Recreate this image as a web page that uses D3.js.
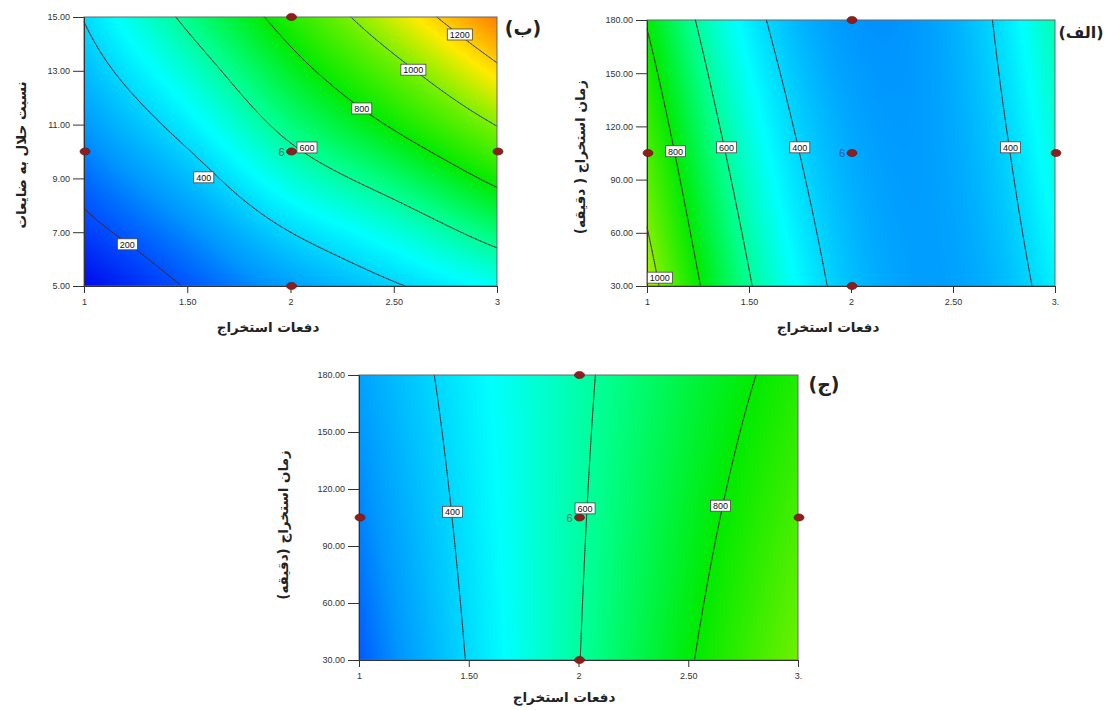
<!DOCTYPE html>
<html>
<head>
<meta charset="utf-8">
<script src="https://cdnjs.cloudflare.com/ajax/libs/d3/7.8.5/d3.min.js"></script>
<style>
  body { margin: 0; background: #fff; }
  svg { display: block; }
  .tick text { font-family: "Liberation Sans", Arial, sans-serif; font-size: 9px; fill: #333; }
  .fa { font-family: "DejaVu Sans", sans-serif; font-weight: bold; fill: #222; }
</style>
</head>
<body>
<svg id="chart" width="1107" height="710"></svg>
<script>
// ---- panel (ب): extraction count vs solvent/waste ratio ----
var bX = [1, 1.5, 2, 2.5, 3];
var bY = [5, 7, 9, 11, 13, 15];
var bZ = [
  [110, 205, 300, 390, 480],
  [175, 270, 400, 510, 650],
  [230, 350, 520, 660, 830],
  [290, 440, 640, 815, 1005],
  [350, 530, 750, 955, 1175],
  [405, 625, 860, 1100, 1340]
];
var bLevels = [200, 400, 600, 800, 1000, 1200];
var bLabelPos = [[1.21, 6.55], [1.58, 9.04], [2.08, 10.15], [2.345, 11.6], [2.595, 13.04], [2.82, 14.35]];
var bYTicks = [5, 7, 9, 11, 13, 15];
var bXTickLabels = ["1", "1.50", "2", "2.50", "3"];
var bPoints = [[1, 10], [2, 5], [2, 10], [2, 15], [3, 10]];

// ---- panel (الف): extraction count vs time ----
var aX = [1, 1.25, 1.5, 1.75, 2, 2.25, 2.5, 2.75, 3];
var aY = [30, 105, 180];
var aZ = [
  [1060, 811, 611, 460, 359, 307, 304, 350, 446],
  [925, 701, 525, 399, 323, 295, 317, 388, 508],
  [791, 591, 440, 339, 287, 284, 330, 426, 570]
];
var aLevels = [1000, 800, 600, 400, 400];
var aLabelPos = [[1.063, 34.7], [1.14, 106], [1.39, 108.2], [1.749, 108.2], [2.782, 108.2]];
var aYTicks = [30, 60, 90, 120, 150, 180];
var aXTickLabels = ["1", "1.50", "2", "2.50", "3."];
var aPoints = [[1, 105], [2, 30], [2, 105], [2, 180], [3, 105]];

// ---- panel (ج): extraction count vs time ----
var cX = [1, 1.5, 2, 2.5, 3];
var cY = [30, 105, 180];
var cZ = [
  [213, 406, 597, 789, 982],
  [260, 425, 588, 752, 917],
  [306, 443, 579, 716, 852]
];
var cLevels = [400, 600, 800];
var cLabelPos = [[1.426, 108], [2.03, 109.8], [2.647, 111.2]];
var cYTicks = [30, 60, 90, 120, 150, 180];
var cXTickLabels = ["1", "1.50", "2", "2.50", "3."];
var cPoints = [[1, 105], [2, 30], [2, 105], [2, 180], [3, 105]];

var xTicks = [1, 1.5, 2, 2.5, 3];
var colorStops = [100, 200, 285, 470, 620, 800, 980, 1150, 1350];
var colorList = ["#0000eb", "#0050ff", "#0096ff", "#00ffff", "#00ff8c", "#00eb00", "#6ef000", "#ffeb00", "#ff7800"];

var color = d3.scaleLinear().domain(colorStops).range(colorList).interpolate(d3.interpolateRgb).clamp(true);
var svg = d3.select("#chart");

// smooth (Catmull-Rom) lookup inside a grid of read values, for shading and isolines
function fieldOf(xs, ys, zs) {
  var nx = xs.length, ny = ys.length;
  function g(r, c) {
    if (r < 0) return 2 * g(0, c) - g(1, c);
    if (r > ny - 1) return 2 * g(ny - 1, c) - g(ny - 2, c);
    if (c < 0) return 2 * g(r, 0) - g(r, 1);
    if (c > nx - 1) return 2 * g(r, nx - 1) - g(r, nx - 2);
    return zs[r][c];
  }
  function cr(p0, p1, p2, p3, t) {
    return 0.5 * (2 * p1 + (-p0 + p2) * t + (2 * p0 - 5 * p1 + 4 * p2 - p3) * t * t + (-p0 + 3 * p1 - 3 * p2 + p3) * t * t * t);
  }
  return function(x, y) {
    var fx = (x - xs[0]) / (xs[1] - xs[0]), fy = (y - ys[0]) / (ys[1] - ys[0]);
    var c = Math.min(Math.max(Math.floor(fx), 0), nx - 2), r = Math.min(Math.max(Math.floor(fy), 0), ny - 2);
    var tx = fx - c, ty = fy - r;
    var rows = [];
    for (var k = -1; k <= 2; k++) {
      rows.push(cr(g(r + k, c - 1), g(r + k, c), g(r + k, c + 1), g(r + k, c + 2), tx));
    }
    return cr(rows[0], rows[1], rows[2], rows[3], ty);
  };
}

// marching squares -> list of segments in data space
function isoline(f, x0, x1, y0, y1, t) {
  var n = 160, m = 120, segs = [];
  var gx = d3.range(n + 1).map(function(i) { return x0 + (x1 - x0) * i / n; });
  var gy = d3.range(m + 1).map(function(j) { return y0 + (y1 - y0) * j / m; });
  var v = gy.map(function(y) { return gx.map(function(x) { return f(x, y); }); });
  function ip(xa, ya, va, xb, yb, vb) {
    var s = (t - va) / (vb - va);
    return [xa + (xb - xa) * s, ya + (yb - ya) * s];
  }
  for (var j = 0; j < m; j++) {
    for (var i = 0; i < n; i++) {
      var a = v[j][i], b = v[j][i + 1], c = v[j + 1][i + 1], d = v[j + 1][i];
      var pts = [];
      if ((a < t) !== (b < t)) pts.push(ip(gx[i], gy[j], a, gx[i + 1], gy[j], b));
      if ((b < t) !== (c < t)) pts.push(ip(gx[i + 1], gy[j], b, gx[i + 1], gy[j + 1], c));
      if ((d < t) !== (c < t)) pts.push(ip(gx[i], gy[j + 1], d, gx[i + 1], gy[j + 1], c));
      if ((a < t) !== (d < t)) pts.push(ip(gx[i], gy[j], a, gx[i], gy[j + 1], d));
      if (pts.length >= 2) segs.push([pts[0], pts[1]]);
      if (pts.length === 4) segs.push([pts[2], pts[3]]);
    }
  }
  return segs;
}

function drawPanel(p) {
  var x = d3.scaleLinear().domain([1, 3]).range([p.left, p.right]);
  var y = d3.scaleLinear().domain(d3.extent(p.ys)).range([p.bottom, p.top]);
  var f = fieldOf(p.xs, p.ys, p.zs);
  var g = svg.append("g");

  // shaded surface
  var w = Math.round(p.right - p.left), h = Math.round(p.bottom - p.top);
  var cv = document.createElement("canvas");
  cv.width = w; cv.height = h;
  var ctx = cv.getContext("2d"), img = ctx.createImageData(w, h);
  for (var py = 0; py < h; py++) {
    for (var px = 0; px < w; px++) {
      var c = d3.rgb(color(f(x.invert(p.left + px + 0.5), y.invert(p.top + py + 0.5))));
      var k = (py * w + px) * 4;
      img.data[k] = c.r; img.data[k + 1] = c.g; img.data[k + 2] = c.b; img.data[k + 3] = 255;
    }
  }
  ctx.putImageData(img, 0, 0);
  g.append("image").attr("x", p.left).attr("y", p.top).attr("width", w).attr("height", h)
    .attr("preserveAspectRatio", "none").attr("href", cv.toDataURL());

  // contour lines
  var yd = d3.extent(p.ys);
  var done = {};
  p.levels.forEach(function(t) {
    if (done[t]) return;
    done[t] = true;
    var segs = isoline(f, 1, 3, yd[0], yd[1], t);
    var d = segs.map(function(s) {
      return "M" + x(s[0][0]) + "," + y(s[0][1]) + "L" + x(s[1][0]) + "," + y(s[1][1]);
    }).join("");
    g.append("path").attr("d", d).attr("fill", "none")
      .attr("stroke", p.lineColor(t)).attr("stroke-width", 0.8).attr("stroke-linecap", "round");
  });

  // frame
  g.append("rect").attr("x", p.left).attr("y", p.top).attr("width", p.right - p.left).attr("height", p.bottom - p.top)
    .attr("fill", "none").attr("stroke", "#666").attr("stroke-width", 1);

  // axes
  var ya = g.append("g").attr("transform", "translate(" + p.left + ",0)")
    .call(d3.axisLeft(y).tickValues(p.yTicks).tickSize(11).tickSizeOuter(0).tickPadding(3).tickFormat(d3.format(".2f")));
  var xa = g.append("g").attr("transform", "translate(0," + p.bottom + ")")
    .call(d3.axisBottom(x).tickValues(xTicks).tickSize(7).tickSizeOuter(0).tickPadding(6)
      .tickFormat(function(d, i) { return p.xTickLabels[i]; }));
  [ya, xa].forEach(function(a) {
    a.select(".domain").attr("stroke", "#333");
    a.selectAll(".tick line").attr("stroke", "#333");
  });

  // design points
  p.points.forEach(function(pt) {
    g.append("ellipse").attr("cx", x(pt[0]) + 1).attr("cy", y(pt[1])).attr("rx", 5).attr("ry", 3.6)
      .attr("fill", "#8e1d1d").attr("stroke", "#5c1010").attr("stroke-width", 0.6);
  });
  g.append("text").attr("x", x(2) - 6).attr("y", y(p.centerY) + 4).attr("text-anchor", "end")
    .attr("font-family", "Liberation Sans, Arial, sans-serif").attr("font-size", 11).attr("fill", p.sixColor).text("6");

  // contour value labels
  p.levels.forEach(function(t, i) {
    var lx = x(p.labelPos[i][0]), ly = y(p.labelPos[i][1]);
    var lg = g.append("g");
    var tx = lg.append("text").attr("x", lx).attr("y", ly + 3.5).attr("text-anchor", "middle")
      .attr("font-family", "Liberation Sans, Arial, sans-serif").attr("font-size", 9).attr("fill", "#111").text(t);
    var tw = tx.node().getComputedTextLength();
    lg.insert("rect", "text").attr("x", lx - tw / 2 - 2.5).attr("y", ly - 5.5).attr("width", tw + 5).attr("height", 11)
      .attr("fill", "#fff").attr("stroke", "#444").attr("stroke-width", 0.8);
  });

  // titles
  g.append("text").attr("class", "fa").attr("direction", "rtl").attr("text-anchor", "middle")
    .attr("x", p.xTitlePos[0]).attr("y", p.xTitlePos[1]).attr("font-size", 13.5).text(p.xTitle);
  g.append("text").attr("class", "fa").attr("direction", "rtl").attr("text-anchor", "middle")
    .attr("transform", "translate(" + p.yTitlePos[0] + "," + p.yTitlePos[1] + ") rotate(-90)")
    .attr("font-size", 13.5).text(p.yTitle);
  g.append("text").attr("class", "fa").attr("text-anchor", "middle")
    .attr("x", p.tagPos[0]).attr("y", p.tagPos[1]).attr("font-size", p.tagSize).text(p.tag);
}

var runs = "دفعات استخراج";

drawPanel({
  xs: bX, ys: bY, zs: bZ, levels: bLevels, labelPos: bLabelPos, yTicks: bYTicks, xTickLabels: bXTickLabels,
  points: bPoints, centerY: 10, sixColor: "#4b5a4b",
  left: 84, right: 497, top: 17, bottom: 286,
  lineColor: function(t) { return t >= 1000 ? "#2d3f96" : "#4a2626"; },
  xTitle: runs, xTitlePos: [268, 332], yTitle: "نسبت حلال به ضایعات", yTitlePos: [26, 155],
  tag: "(ب)", tagPos: [523, 35], tagSize: 19
});
drawPanel({
  xs: aX, ys: aY, zs: aZ, levels: aLevels, labelPos: aLabelPos, yTicks: aYTicks, xTickLabels: aXTickLabels,
  points: aPoints, centerY: 105, sixColor: "#3557a8",
  left: 647, right: 1055, top: 20, bottom: 286,
  lineColor: function() { return "#4a2626"; },
  xTitle: runs, xTitlePos: [828, 332], yTitle: "زمان استخراج ( دقیقه)", yTitlePos: [585, 157],
  tag: "(الف)", tagPos: [1081, 38], tagSize: 16
});
drawPanel({
  xs: cX, ys: cY, zs: cZ, levels: cLevels, labelPos: cLabelPos, yTicks: cYTicks, xTickLabels: cXTickLabels,
  points: cPoints, centerY: 105, sixColor: "#666",
  left: 359, right: 798, top: 375, bottom: 660,
  lineColor: function() { return "#4a2626"; },
  xTitle: runs, xTitlePos: [564, 702], yTitle: "زمان استخراج (دقیقه)", yTitlePos: [288, 525],
  tag: "(ج)", tagPos: [824, 391], tagSize: 19
});
</script>
</body>
</html>
